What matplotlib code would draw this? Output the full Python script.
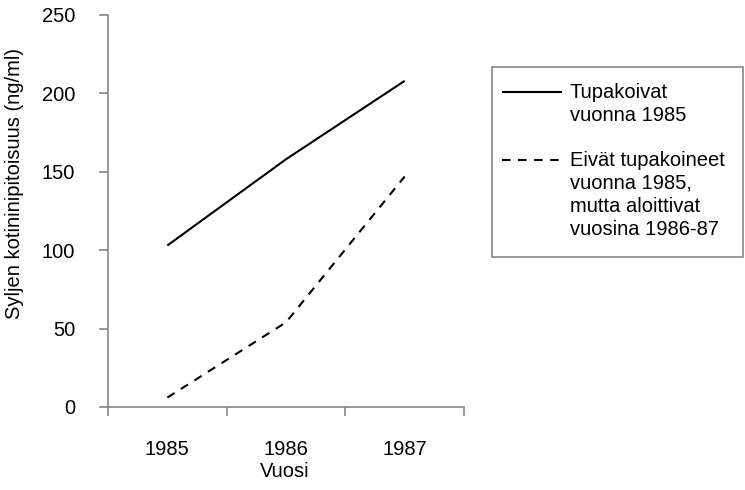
import matplotlib
matplotlib.use("Agg")
import matplotlib.pyplot as plt
from matplotlib.lines import Line2D
from matplotlib.patches import Rectangle

years = ["1985", "1986", "1987"]
smokers_1985 = [103, 158, 208]
started_1986_87 = [6, 54, 147]
series_labels = ["Tupakoivat\nvuonna 1985",
                 "Eivät tupakoineet\nvuonna 1985,\nmutta aloittivat\nvuosina 1986-87"]
y_ticks = [0, 50, 100, 150, 200, 250]

plt.rcParams['font.family'] = ['Liberation Sans', 'DejaVu Sans']
FS = 14.5
W, H = 745, 490
fig = plt.figure(figsize=(W / 100, H / 100), dpi=100)
ax = fig.add_axes([108 / W, 1 - 407 / H, (464 - 108) / W, (407 - 15) / H])

x = list(range(len(years)))
dash = (4.1, 3.6)
ax.plot(x, smokers_1985, color='black', lw=1.5, solid_capstyle='butt')
ax.plot(x, started_1986_87, color='black', lw=1.5, linestyle=(0, dash), dash_capstyle='butt')

ax.set_xlim(-0.5, len(years) - 0.5)
ax.set_ylim(0, 250)
ax.set_yticks(y_ticks)
ax.set_yticklabels([str(v) for v in y_ticks], fontsize=FS)
ax.set_xticks([i - 0.5 for i in range(len(years) + 1)])
ax.set_xticklabels([])
ax.set_xticks(x, minor=True)
ax.set_xticklabels(years, minor=True, fontsize=FS)

grey = '#868686'
for s in ['top', 'right']:
    ax.spines[s].set_visible(False)
for s in ['left', 'bottom']:
    ax.spines[s].set_color(grey)
    ax.spines[s].set_linewidth(1.2)
ax.tick_params(axis='y', which='major', direction='out', length=6.5, width=1.2, color=grey, pad=17)
ax.tick_params(axis='x', which='major', direction='out', length=6.5, width=1.2, color=grey)
ax.tick_params(axis='x', which='minor', length=0, pad=23.5)

fig.text(15 / W, 1 - 183 / H, "Syljen kotininipitoisuus (ng/ml)", rotation=90,
         ha='center', va='center', fontsize=FS)
fig.text(285 / W, 1 - 471 / H, "Vuosi", ha='center', va='center', fontsize=FS)

# legend box
fig.patches.append(Rectangle((492 / W, 1 - 257 / H), (743 - 492) / W, (257 - 67) / H,
                             transform=fig.transFigure, fill=False, edgecolor=grey, lw=1.2))
fig.lines.append(Line2D([502 / W, 562 / W], [1 - 92 / H, 1 - 92 / H], transform=fig.transFigure,
                        color='black', lw=1.5, solid_capstyle='butt'))
fig.lines.append(Line2D([502 / W, 562 / W], [1 - 160 / H, 1 - 160 / H], transform=fig.transFigure,
                        color='black', lw=1.5, linestyle=(0, dash), dash_capstyle='butt'))
line_gap = 23.2
for i, t in enumerate(series_labels[0].split("\n")):
    fig.text(570 / W, 1 - (92 + i * line_gap) / H, t, ha='left', va='center', fontsize=FS)
for i, t in enumerate(series_labels[1].split("\n")):
    fig.text(570 / W, 1 - (160 + i * line_gap) / H, t, ha='left', va='center', fontsize=FS)

fig.savefig("out.png", dpi=100)
